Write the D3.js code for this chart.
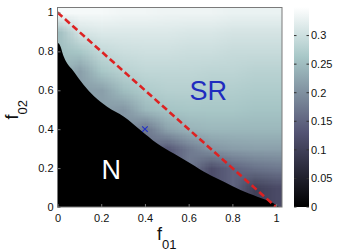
<!DOCTYPE html>
<html lang="en">
	<head>
		<meta charset="utf-8">
		<title>SR / N region map</title>
		<script type="text/javascript" src="https://cdn.jsdelivr.net/npm/d3@7"></script>
		<style type="text/css">
			body, html {
				margin: 0;
				padding: 0;
				background: #fff;
			}
			svg text {
				font-family: 'Liberation Sans', Arial, Helvetica, sans-serif;
				fill: #111;
			}
			.tick text {
				font-size: 11px;
			}
			.tick line {
				stroke: #777;
			}
		</style>
	</head>
	<body>
		<script type="text/javascript">
			// canvas size
			var w = 345;
			var h = 251;

			// grid of the map (f01 across, f02 from top to bottom)
			var f01Grid = [0, 0.1, 0.2, 0.3, 0.4, 0.5, 0.6, 0.7, 0.8, 0.9, 1];
			var f02Grid = [1, 0.9, 0.8, 0.7, 0.6, 0.5, 0.4, 0.3, 0.2, 0.1, 0];
			// colour value read at each grid point, null = inside N
			var srValues = [
				[0.340, 0.340, 0.340, 0.336, 0.336, 0.333, 0.333, 0.333, 0.329, 0.329, 0.329],
				[0.252, 0.308, 0.315, 0.315, 0.315, 0.315, 0.312, 0.312, 0.308, 0.308, 0.308],
				[null, 0.263, 0.290, 0.298, 0.301, 0.301, 0.298, 0.298, 0.294, 0.294, 0.294],
				[null, 0.217, 0.263, 0.280, 0.287, 0.287, 0.287, 0.284, 0.284, 0.280, 0.280],
				[null, null, 0.217, 0.252, 0.270, 0.277, 0.277, 0.273, 0.273, 0.270, 0.270],
				[null, null, null, 0.205, 0.245, 0.259, 0.263, 0.263, 0.263, 0.259, 0.259],
				[null, null, null, null, 0.170, 0.220, 0.240, 0.245, 0.245, 0.245, 0.245],
				[null, null, null, null, null, 0.135, 0.175, 0.205, 0.215, 0.218, 0.218],
				[null, null, null, null, null, null, null, 0.120, 0.150, 0.165, 0.172],
				[null, null, null, null, null, null, null, null, null, 0.100, 0.115],
				[null, null, null, null, null, null, null, null, null, null, null]
			];

			// edge of the N region
			var edgeF01 = [0, 0.011, 0.029, 0.075, 0.121, 0.166, 0.227, 0.304, 0.380, 0.456, 0.532, 0.609, 0.685, 0.761, 0.837, 0.914, 0.990, 1.013];
			var edgeF02 = [0.845, 0.832, 0.772, 0.695, 0.626, 0.570, 0.515, 0.464, 0.395, 0.327, 0.275, 0.224, 0.172, 0.130, 0.087, 0.053, 0.018, 0];

			// dashed reference line f01 + f02 = 1
			var lineF01 = [0, 1];
			var lineF02 = [1, 0];

			// marked point
			var markF01 = [0.4];
			var markF02 = [0.4];

			var axisTicks = [0, 0.2, 0.4, 0.6, 0.8, 1];
			var cbarTicks = [0, 0.05, 0.1, 0.15, 0.2, 0.25, 0.3];
			var cMax = 0.35;
			var xMax = 1.027;
			var yMax = 1.028;

			// bone colormap
			var boneStops = [0, 0.375, 0.75, 1];
			var boneColors = ["#000000", "#545474", "#a7c7c7", "#ffffff"];

			var plot = { left: 57.5, right: 282, top: 7, bottom: 207 };
			var cbar = { left: 294, right: 309 };

			var x = d3.scaleLinear().domain([0, xMax]).range([plot.left, plot.right]);
			var y = d3.scaleLinear().domain([0, yMax]).range([plot.bottom, plot.top]);
			var c = d3.scaleLinear().domain([0, cMax]).range([plot.bottom, plot.top]);
			var color = d3.scaleLinear()
				.domain(boneStops.map(function(s) { return s * cMax; }))
				.range(boneColors)
				.interpolate(d3.interpolateRgb);

			var svg = d3.select("body")
				.append("svg")
				.attr("width", w)
				.attr("height", h);

			var defs = svg.append("defs");
			defs.append("clipPath")
				.attr("id", "plotclip")
				.append("rect")
				.attr("x", plot.left)
				.attr("y", plot.top)
				.attr("width", plot.right - plot.left)
				.attr("height", plot.bottom - plot.top);

			//heat map: one pixel per grid point, scaled up smooth by the browser
			var cols = f01Grid.length, rows = f02Grid.length;
			var canvas = document.createElement("canvas");
			canvas.width = cols;
			canvas.height = rows;
			var ctx = canvas.getContext("2d");
			var img = ctx.createImageData(cols, rows);
			for (var j = 0; j < cols; j++) {
				var last = 0;
				for (var i = 0; i < rows; i++) {
					var v = srValues[i][j];
					if (v === null) v = last; else last = v;
					var rgb = d3.rgb(color(v));
					var k = (i * cols + j) * 4;
					img.data[k] = rgb.r;
					img.data[k + 1] = rgb.g;
					img.data[k + 2] = rgb.b;
					img.data[k + 3] = 255;
				}
			}
			ctx.putImageData(img, 0, 0);

			var cw = x(f01Grid[1]) - x(f01Grid[0]);
			var ch = y(f02Grid[1]) - y(f02Grid[0]);
			var gPlot = svg.append("g").attr("clip-path", "url(#plotclip)");

			gPlot.append("image")
				.attr("href", canvas.toDataURL())
				.attr("x", x(f01Grid[0]) - cw / 2)
				.attr("y", y(f02Grid[0]) - ch / 2)
				.attr("width", cw * cols)
				.attr("height", ch * rows)
				.attr("preserveAspectRatio", "none");

			// N region in black
			var edge = edgeF01.map(function(d, i) { return [d, edgeF02[i]]; });
			var area = d3.area()
				.x(function(d) { return x(d[0]); })
				.y0(y(0))
				.y1(function(d) { return y(d[1]); })
				.curve(d3.curveMonotoneX);
			gPlot.append("path")
				.datum(edge)
				.attr("d", area)
				.attr("fill", "#000");

			// dashed line
			var line = d3.line()
				.x(function(d) { return x(d[0]); })
				.y(function(d) { return y(d[1]); });
			gPlot.append("path")
				.datum(lineF01.map(function(d, i) { return [d, lineF02[i]]; }))
				.attr("d", line)
				.attr("fill", "none")
				.attr("stroke", "#dd2222")
				.attr("stroke-width", 2.6)
				.attr("stroke-dasharray", "6.5,3.5");

			// x marker
			gPlot.selectAll(".mark")
				.data(markF01)
				.enter()
				.append("path")
				.attr("class", "mark")
				.attr("d", d3.symbol().type(d3.symbolX).size(22))
				.attr("transform", function(d, i) {
					return "translate(" + x(d) + "," + y(markF02[i]) + ")";
				})
				.attr("fill", "none")
				.attr("stroke", "#2030c8")
				.attr("stroke-width", 1.1);

			svg.append("text")
				.attr("x", x(0.69))
				.attr("y", y(0.549))
				.attr("text-anchor", "middle")
				.style("font-size", "27px")
				.style("fill", "#1f2bbf")
				.text("SR");

			svg.append("text")
				.attr("x", x(0.246))
				.attr("y", y(0.142))
				.attr("text-anchor", "middle")
				.style("font-size", "27px")
				.style("fill", "#fff")
				.text("N");

			// frame
			svg.append("rect")
				.attr("x", plot.left)
				.attr("y", plot.top + 0.5)
				.attr("width", plot.right - plot.left)
				.attr("height", plot.bottom - plot.top - 0.5)
				.attr("fill", "none")
				.attr("stroke", "#7a7a7a")
				.attr("stroke-width", 1);

			//axes
			var fmt = d3.format("");
			svg.append("g")
				.attr("transform", "translate(0," + plot.bottom + ")")
				.call(d3.axisBottom(x).tickValues(axisTicks).tickFormat(fmt).tickSizeInner(-3).tickSizeOuter(0).tickPadding(7))
				.call(function(g) { g.select(".domain").remove(); });

			svg.append("g")
				.attr("transform", "translate(" + plot.left + ",0)")
				.call(d3.axisLeft(y).tickValues(axisTicks).tickFormat(fmt).tickSizeInner(-3).tickSizeOuter(0).tickPadding(4))
				.call(function(g) { g.select(".domain").remove(); });

			// axis labels
			var xl = svg.append("text")
				.attr("x", x(0.5))
				.attr("y", 240)
				.attr("text-anchor", "middle")
				.style("font-size", "18px")
				.text("f");
			xl.append("tspan").attr("dy", 9).style("font-size", "13px").text("01");

			var yl = svg.append("text")
				.attr("transform", "translate(18," + y(0.5) + ") rotate(-90)")
				.attr("text-anchor", "middle")
				.style("font-size", "18px")
				.text("f");
			yl.append("tspan").attr("dy", 9).style("font-size", "13px").text("02");

			//colorbar
			var grad = defs.append("linearGradient")
				.attr("id", "bone")
				.attr("x1", 0).attr("y1", 1)
				.attr("x2", 0).attr("y2", 0);
			grad.selectAll("stop")
				.data(boneStops)
				.enter()
				.append("stop")
				.attr("offset", function(d) { return d; })
				.attr("stop-color", function(d, i) { return boneColors[i]; });

			svg.append("rect")
				.attr("x", cbar.left)
				.attr("y", c(cMax))
				.attr("width", cbar.right - cbar.left)
				.attr("height", c(0) - c(cMax))
				.attr("fill", "url(#bone)");

			var cb = svg.append("g");
			cb.selectAll(".cl")
				.data(cbarTicks)
				.enter()
				.append("line")
				.attr("x1", cbar.left).attr("x2", cbar.left + 2.5)
				.attr("y1", function(d) { return c(d); })
				.attr("y2", function(d) { return c(d); })
				.attr("stroke", "#333");
			cb.selectAll(".cr")
				.data(cbarTicks)
				.enter()
				.append("line")
				.attr("x1", cbar.right - 2.5).attr("x2", cbar.right)
				.attr("y1", function(d) { return c(d); })
				.attr("y2", function(d) { return c(d); })
				.attr("stroke", "#333");
			cb.selectAll("text")
				.data(cbarTicks)
				.enter()
				.append("text")
				.attr("x", cbar.right + 2)
				.attr("y", function(d) { return c(d); })
				.attr("dy", "0.35em")
				.style("font-size", "11px")
				.text(function(d) { return fmt(d); });
		</script>
	</body>
</html>
